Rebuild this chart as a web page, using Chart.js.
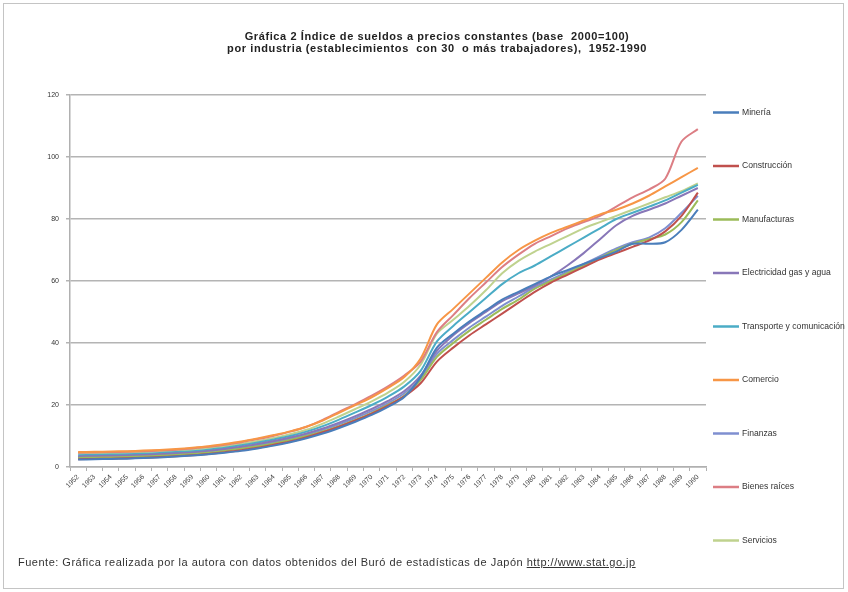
<!DOCTYPE html>
<html>
<head>
<meta charset="utf-8">
<script src="https://cdn.jsdelivr.net/npm/chart.js@4/dist/chart.umd.min.js"></script>
<style>
  html, body { margin: 0; padding: 0; background: #fff; }
  #wrap { position: relative; width: 848px; height: 592px; overflow: hidden; }
  #frame { position: absolute; left: 3px; top: 3px; width: 841px; height: 586px; border: 1px solid #c4c4c4; box-sizing: border-box; }
  canvas { position: absolute; left: 0; top: 0; }
  #title { position: absolute; left: 0; width: 874px; top: 30px; text-align: center;
           font: bold 11px "Liberation Sans", Arial, sans-serif; letter-spacing: 0.6px; line-height: 12px; color: #222; white-space: pre; }
  #note { position: absolute; left: 18px; top: 556px; font: 11px "Liberation Sans", Arial, sans-serif; letter-spacing: 0.5px; color: #333; white-space: pre; }
  #note u { text-decoration: underline; }
</style>
</head>
<body>
<div id="wrap">
  <div id="frame"></div>
  <canvas id="c" width="848" height="592"></canvas>
  <div id="title">Gráfica 2 Índice de sueldos a precios constantes (base  2000=100)
por industria (establecimientos  con 30  o más trabajadores),  1952-1990</div>
  <div id="note">Fuente: Gráfica realizada por la autora con datos obtenidos del Buró de estadísticas de Japón <u>http://www.stat.go.jp</u></div>
</div>
<script>
// Years 1952-1990
const years = [];
for (let y = 1952; y <= 1990; y++) years.push(String(y));

const yTicks = [0, 20, 40, 60, 80, 100, 120];

// Wage index by industry (2000 = 100)
const mineria = [2.4, 2.5, 2.6, 2.7, 2.9, 3.1, 3.4, 3.7, 4.1, 4.6, 5.2, 6.0, 6.9, 8.0, 9.3, 10.8, 12.6, 14.6, 16.8, 19.4, 22.6,
  29.0, 38.5, 43.0, 47.0, 50.5, 54.0, 56.5, 59.0, 61.5, 63.5, 65.5, 67.5, 69.5, 72.0, 72.0, 72.5, 76.5, 83.0];
const construccion = [2.5, 2.6, 2.7, 2.8, 3.0, 3.2, 3.5, 3.8, 4.2, 4.8, 5.4, 6.2, 7.2, 8.2, 9.6, 11.2, 13.0, 15.0, 17.2, 19.8, 22.8,
  27.0, 34.0, 38.5, 42.5, 46.0, 49.5, 53.0, 56.5, 59.5, 62.0, 64.5, 67.0, 69.0, 71.0, 73.0, 76.0, 81.0, 88.5];
const manufacturas = [2.9, 3.0, 3.1, 3.2, 3.4, 3.6, 3.9, 4.2, 4.6, 5.2, 5.9, 6.7, 7.6, 8.7, 10.0, 11.5, 13.2, 15.2, 17.4, 20.0, 23.0,
  28.0, 35.5, 40.0, 44.0, 47.5, 51.0, 54.0, 57.5, 60.0, 62.5, 65.0, 67.5, 70.0, 72.0, 73.5, 75.0, 79.0, 86.0];
const electricidad = [3.4, 3.5, 3.6, 3.7, 3.9, 4.1, 4.4, 4.7, 5.2, 5.8, 6.5, 7.4, 8.4, 9.5, 10.8, 12.4, 14.3, 16.4, 18.7, 21.3, 24.5,
  29.5, 37.5, 42.5, 46.5, 50.0, 53.5, 56.0, 58.5, 61.5, 65.0, 69.0, 73.5, 78.0, 81.0, 83.0, 85.0, 87.5, 90.0];
const transporte = [3.8, 3.9, 4.0, 4.1, 4.3, 4.5, 4.8, 5.1, 5.6, 6.2, 7.0, 7.9, 8.9, 10.0, 11.4, 13.2, 15.3, 17.6, 20.0, 22.7, 26.0,
  31.0, 40.5, 45.5, 50.0, 54.5, 59.0, 62.5, 65.0, 68.0, 71.0, 74.0, 77.0, 80.0, 82.0, 84.0, 86.0, 88.5, 91.0];
const comercio = [4.8, 4.9, 5.0, 5.1, 5.3, 5.5, 5.8, 6.2, 6.7, 7.4, 8.2, 9.2, 10.3, 11.5, 13.0, 15.0, 17.5, 20.0, 22.5, 25.5, 29.0,
  35.0, 46.0, 51.0, 56.0, 61.0, 66.0, 70.0, 73.0, 75.5, 77.5, 79.5, 81.5, 83.0, 85.0, 87.5, 90.5, 93.5, 96.5];
const finanzas = [3.2, 3.3, 3.4, 3.5, 3.7, 3.9, 4.2, 4.5, 5.0, 5.6, 6.3, 7.1, 8.0, 9.1, 10.4, 12.0, 13.8, 15.8, 18.0, 20.6, 23.8,
  28.5, 36.5, 41.0, 45.0, 48.5, 52.0, 55.0, 58.0, 60.5, 63.0, 65.5, 68.0, 70.5, 72.5, 74.0, 77.0, 82.0, 87.5];
const bienesRaices = [4.6, 4.7, 4.8, 4.9, 5.1, 5.3, 5.6, 6.0, 6.5, 7.2, 8.0, 9.0, 10.1, 11.4, 13.0, 15.2, 17.8, 20.3, 23.0, 26.0, 29.5,
  34.0, 43.5, 49.0, 54.5, 59.5, 64.5, 68.5, 72.0, 74.5, 77.0, 79.0, 81.0, 84.0, 87.0, 89.5, 93.0, 105.0, 109.0];
const servicios = [4.3, 4.4, 4.5, 4.6, 4.8, 5.0, 5.3, 5.6, 6.1, 6.7, 7.5, 8.4, 9.4, 10.6, 12.0, 14.0, 16.3, 18.7, 21.2, 24.0, 27.5,
  33.0, 43.0, 47.5, 52.0, 57.0, 62.5, 66.5, 69.5, 72.0, 74.5, 77.0, 79.0, 81.0, 83.0, 85.0, 87.0, 89.0, 91.5];

const seriesNames = ['Minería', 'Construcción', 'Manufacturas', 'Electricidad gas y agua',
  'Transporte y comunicación', 'Comercio', 'Finanzas', 'Bienes raíces', 'Servicios'];
const seriesData = [mineria, construccion, manufacturas, electricidad, transporte, comercio, finanzas, bienesRaices, servicios];
const seriesColors = ['#4a7ebb', '#c0504d', '#9bbb59', '#8877b8', '#4bacc6', '#f79646', '#7f8fd0', '#dc7e84', '#bfd28e'];

const datasets = seriesNames.map((name, i) => ({
  label: name,
  data: seriesData[i],
  borderColor: seriesColors[i],
  backgroundColor: seriesColors[i],
  borderWidth: 2,
  pointRadius: 0,
  tension: 0.3,
  fill: false
}));

// Legend drawn as a vertical column to the right of the plot
const sideLegend = {
  id: 'sideLegend',
  afterDraw(chart) {
    const ctx = chart.ctx;
    ctx.save();
    chart.data.datasets.forEach((ds, i) => {
      const y = 112.5 + i * 53.5;
      ctx.strokeStyle = ds.borderColor;
      ctx.lineWidth = 2.5;
      ctx.beginPath();
      ctx.moveTo(713, y);
      ctx.lineTo(739, y);
      ctx.stroke();
      ctx.fillStyle = '#333';
      ctx.font = '8.6px "Liberation Sans", Arial, sans-serif';
      ctx.textBaseline = 'middle';
      ctx.textAlign = 'left';
      ctx.fillText(ds.label, 742, y);
    });
    ctx.restore();
  }
};

new Chart(document.getElementById('c'), {
  type: 'line',
  data: { labels: years, datasets },
  plugins: [sideLegend],
  options: {
    responsive: false,
    animation: false,
    layout: { padding: { top: 95, right: 142, bottom: 0, left: 0 } },
    plugins: { legend: { display: false }, tooltip: { enabled: false } },
    scales: {
      x: {
        offset: true,
        grid: { drawOnChartArea: false, offset: true, tickLength: 4, color: '#b0b0b0' },
        border: { color: '#b0b0b0', width: 1.5 },
        ticks: { autoSkip: false, minRotation: 45, maxRotation: 45, padding: 2,
                 color: '#444', font: { size: 7, family: '"Liberation Sans", Arial, sans-serif' } },
        afterFit(scale) { scale.height = 125; }
      },
      y: {
        min: 0, max: 120,
        afterBuildTicks(scale) { scale.ticks = yTicks.map(v => ({ value: v })); },
        grid: { color: '#b4b4b4', lineWidth: 1.5, tickLength: 4 },
        border: { color: '#b0b0b0', width: 1.5 },
        ticks: { padding: 7, color: '#333', font: { size: 7, family: '"Liberation Sans", Arial, sans-serif' } },
        afterFit(scale) { scale.width = 70; }
      }
    }
  }
});
</script>
</body>
</html>
